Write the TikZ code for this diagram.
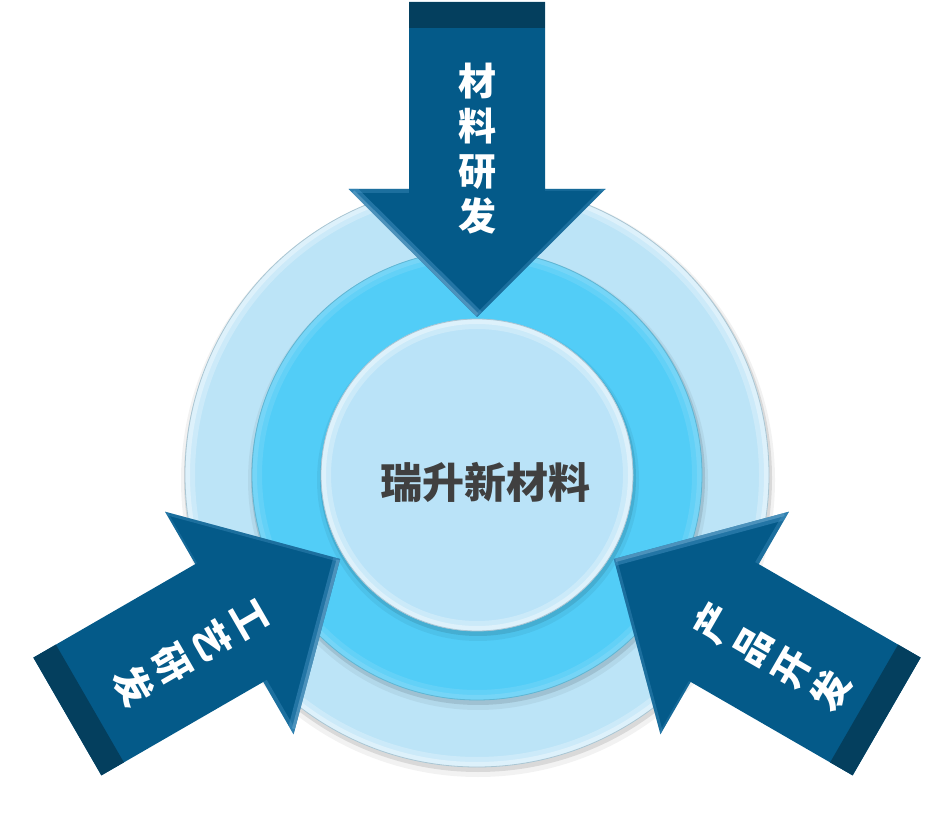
\documentclass[tikz,border=0pt]{standalone}
\usepackage{fontspec}
\newfontfamily\cjk{Noto Sans CJK SC}
\definecolor{arrowmain}{HTML}{045A89}
\definecolor{arrowdark}{HTML}{043F5E}
\definecolor{arrowlight}{HTML}{4A98C8}
\definecolor{outerc}{HTML}{BCE4F7}
\definecolor{midc}{HTML}{52CDF7}
\definecolor{innerc}{HTML}{BAE3F8}
\definecolor{textgray}{HTML}{404040}
\newcommand\bevcirc[4]{%
  \fill[black,opacity=0.05] (478,350) circle (#1+5);
  \fill[black,opacity=0.10] (478,352) circle (#1+2);
  \fill[#2] (477,355) circle (#1);
  \draw[#3,line width=10,opacity=0.25] (477,355) circle (#1-5);
  \draw[#3,line width=5,opacity=0.35] (477,355) circle (#1-2.5);
  \draw[#4,line width=0.8] (477,355) circle (#1);
}
\tikzset{
  arrowtext/.style={font=\cjk\bfseries\fontsize{38}{45}\selectfont, text=white, align=center, inner sep=0pt},
  bigarrow/.pic={
    \fill[arrowmain] (-68,473) -- (68,473) -- (68,286) -- (128.5,286) -- (0,158)
       -- (-128.5,286) -- (-68,286) -- cycle;
    \fill[arrowdark] (-68,473) rectangle (68,447);
    \begin{scope}
      \clip (-128.5,286) -- (128.5,286) -- (0,158) -- cycle;
      \draw[arrowlight,line width=14,opacity=0.45] (-128.5,286) -- (0,158);
      \draw[arrowlight!70!white,line width=4,opacity=0.45] (-124,283) -- (0,160);
      \draw[arrowlight,line width=6,opacity=0.35] (128.5,286) -- (0,158);
      \draw[arrowlight,line width=8,opacity=0.35] (-128.5,286) -- (-68,286);
      \draw[arrowlight,line width=4,opacity=0.25] (128.5,286) -- (68,286);
    \end{scope}
  }
}
\begin{document}
\begin{tikzpicture}[x=1pt,y=1pt]
\useasboundingbox (0,0) rectangle (952,830);
\bevcirc{292}{outerc}{white}{outerc!70!gray}
\bevcirc{225}{midc}{cyan!40!white}{midc!70!gray}
\bevcirc{156}{innerc}{white}{innerc!70!gray}
\node[font=\cjk\bfseries\fontsize{42}{50}\selectfont, text=textgray] (core) at (485,348) {瑞升新材料};
\pic at (477,355) {bigarrow};
\pic[rotate=120] at (477,350) {bigarrow};
\pic[rotate=-120] at (477,350) {bigarrow};
\node[arrowtext] (t1) at (477,681) {材\\料\\研\\发};
\node[arrowtext, rotate=-60] (t2) at (190,177) {工\\艺\\研\\发};
\node[arrowtext, rotate=60] (t3) at (772,173) {产\\品\\开\\发};
\end{tikzpicture}
\end{document}
